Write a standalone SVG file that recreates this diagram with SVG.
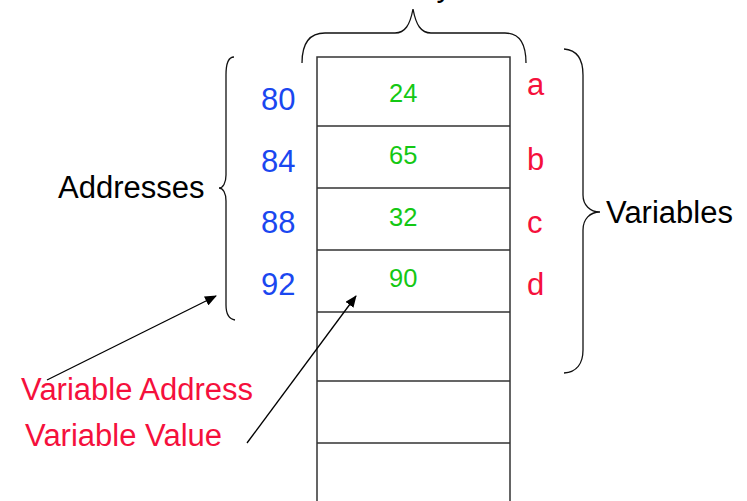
<svg xmlns="http://www.w3.org/2000/svg" width="747" height="501" viewBox="0 0 747 501">
<defs>
<style>
text{font-family:"Liberation Sans",Arial,sans-serif;font-size:31px}
.blk{fill:#000}
.blue{fill:#1a47f0}
.red{fill:#f5103c}
.grn{fill:#14c814;font-size:25.5px}
.tbl{stroke:#333;stroke-width:1.5;fill:none}
.brace{stroke:#111;stroke-width:1.3;fill:none}
.arr{stroke:#000;stroke-width:1.3;fill:none;marker-end:url(#ah)}
</style>
<marker id="ah" viewBox="0 0 12 10" refX="11" refY="5" markerWidth="12" markerHeight="10" markerUnits="userSpaceOnUse" orient="auto">
<path d="M0,0 L12,5 L0,10 Z" fill="#000"/>
</marker>
</defs>
<rect width="747" height="501" fill="#fff"/>
<g id="memory">
<path class="tbl" d="M317,501 L317,57 L510,57 L510,501"/>
<path class="tbl" d="M317,126 H510 M317,188 H510 M317,250 H510 M317,312 H510 M317,381 H510 M317,443 H510"/>
<text class="blk" x="452" y="-4" text-anchor="end">Memory</text>
<path class="brace" d="M302,63 C302,45 308,33 325,33 L395,33 C405,33 410,25 413,9 C416,25 421,33 431,33 L505,33 C520,33 526,45 526,63"/>
</g>
<g id="cells">
<text class="grn" x="389" y="102">24</text>
<text class="grn" x="389" y="164">65</text>
<text class="grn" x="389" y="226">32</text>
<text class="grn" x="389" y="287">90</text>
</g>
<g id="addresses">
<text class="blue" x="261" y="110">80</text>
<text class="blue" x="261" y="172">84</text>
<text class="blue" x="261" y="233">88</text>
<text class="blue" x="261" y="295">92</text>
<path class="brace" d="M234,57 C228,57 226,63 226,75 L226,175 C226,183 223,188 219,188 C223,188 226,193 226,201 L226,305 C226,315 229,319 235,320"/>
<text class="blk" x="58" y="198">Addresses</text>
</g>
<g id="variables">
<text class="red" x="527" y="95">a</text>
<text class="red" x="527" y="170">b</text>
<text class="red" x="527" y="233">c</text>
<text class="red" x="527" y="295">d</text>
<path class="brace" d="M564,49 C577,50 583,60 583,75 L583,195 C583,205 590,212 600,212 C590,212 583,219 583,230 L583,350 C583,363 577,372 564,373"/>
<text class="blk" x="606" y="223">Variables</text>
</g>
<g id="labels">
<text class="red" x="21" y="400">Variable Address</text>
<text class="red" x="25" y="446">Variable Value</text>
</g>
<g id="connectors">
<path class="arr" d="M47,380 L216,296"/>
<path class="arr" d="M247,443 L356,296"/>
</g>
</svg>
